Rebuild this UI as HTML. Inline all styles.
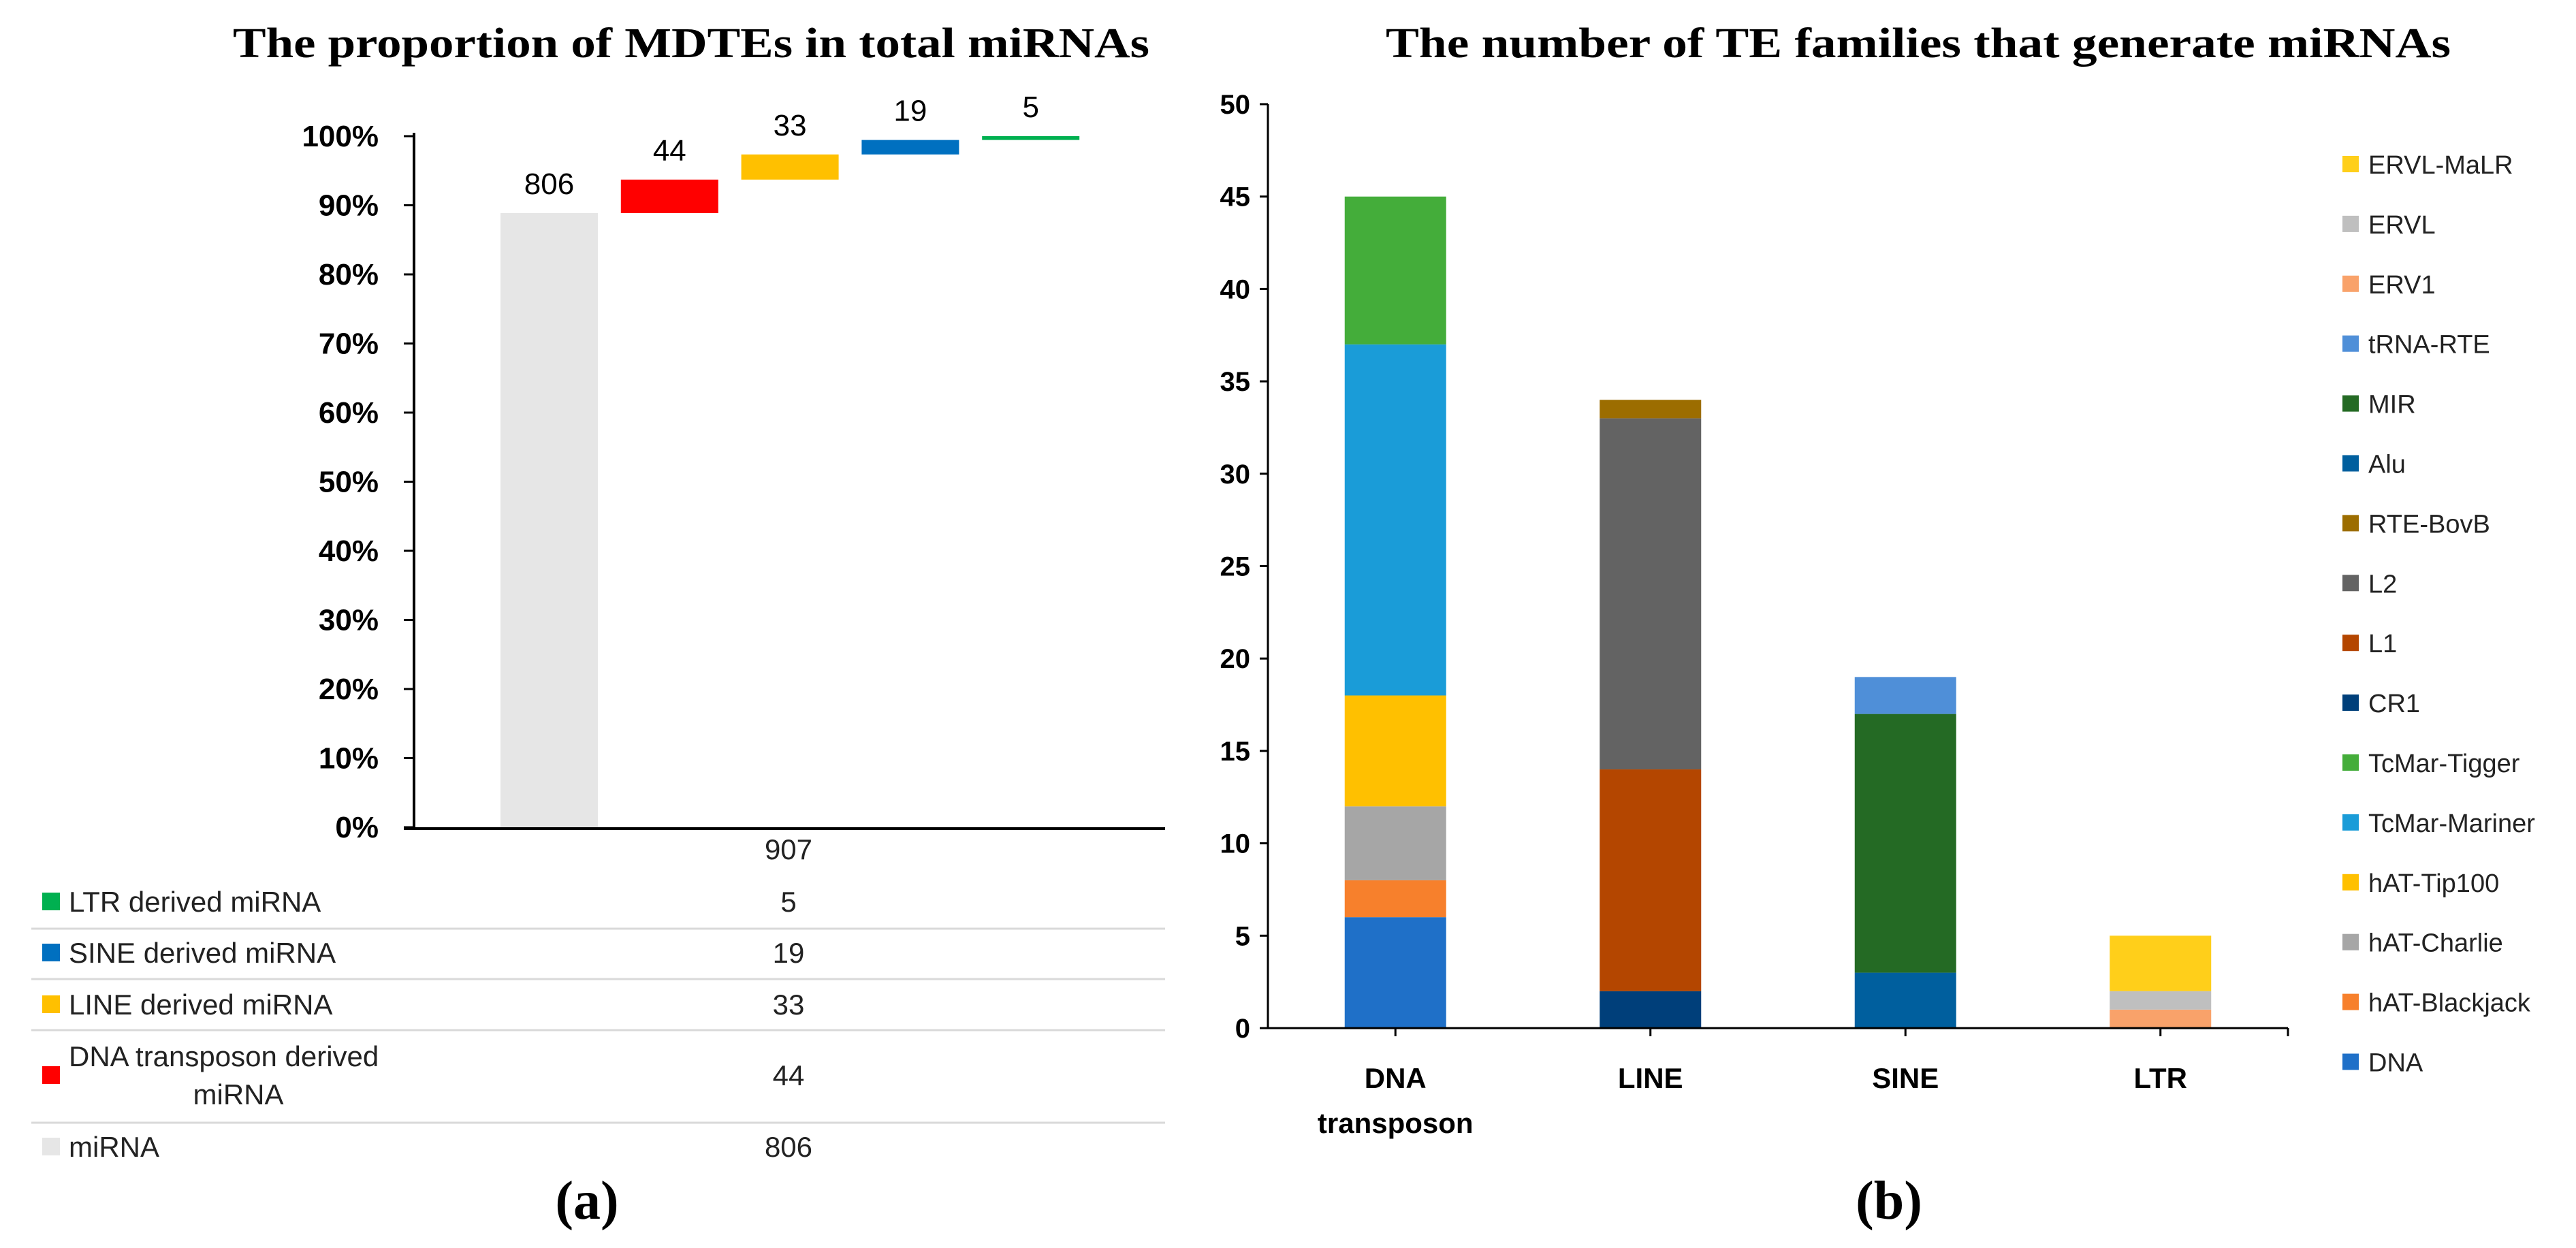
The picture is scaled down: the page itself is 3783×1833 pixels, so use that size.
<!DOCTYPE html>
<html><head><meta charset="utf-8">
<style>
html,body{margin:0;padding:0;background:#fff;}
svg{display:block;}
text{font-family:"Liberation Sans","Noto Sans CJK KR",sans-serif;}
.serif{font-family:"Liberation Serif",serif;font-weight:bold;}
</style></head>
<body>
<svg id="fig" width="3783" height="1833" viewBox="0 0 3783 1833" xmlns="http://www.w3.org/2000/svg">
  <text class="serif" x="1015" y="84" font-size="62" text-anchor="middle" textLength="1346" lengthAdjust="spacingAndGlyphs">The proportion of MDTEs in total miRNAs</text>
  <text class="serif" x="2817" y="84" font-size="62" text-anchor="middle" textLength="1564" lengthAdjust="spacingAndGlyphs">The number of TE families that generate miRNAs</text>
  <g id="chartA"></g>
  <g id="chartB"></g>
  <text class="serif" x="862" y="1790" font-size="80" text-anchor="middle">(a)</text>
  <text class="serif" x="2774" y="1790" font-size="80" text-anchor="middle">(b)</text>
</svg>
<script>
// ---------- Chart A data ----------
const aCategories = ["miRNA","DNA transposon derived miRNA","LINE derived miRNA","SINE derived miRNA","LTR derived miRNA"];
const aValues = [806, 44, 33, 19, 5];
const aColors = ["#e6e6e6","#ff0000","#ffc000","#0070c0","#00b050"];
const aTicks = ["0%","10%","20%","30%","40%","50%","60%","70%","80%","90%","100%"];
const aTotal = 907;
const aTableRows = ["LTR derived miRNA","SINE derived miRNA","LINE derived miRNA","DNA transposon derived miRNA","miRNA"];
const aTableValues = [5, 19, 33, 44, 806];
const aTableColors = ["#00b050","#0070c0","#ffc000","#ff0000","#e6e6e6"];

// ---------- Chart B data ----------
const bCategories = ["DNA transposon","LINE","SINE","LTR"];
const bSeries = ["DNA","hAT-Blackjack","hAT-Charlie","hAT-Tip100","TcMar-Mariner","TcMar-Tigger","CR1","L1","L2","RTE-BovB","Alu","MIR","tRNA-RTE","ERV1","ERVL","ERVL-MaLR"];
const bColors = ["#1f70c8","#f7802c","#a6a6a6","#ffc000","#1a9cd8","#44ad3a","#003f7a","#b44600","#636363","#9c6d00","#005f9e","#246a24","#4f8fd8","#f9a26a","#bfbfbf","#ffcf1a"];
const bValues = [
  [6,0,0,0],[2,0,0,0],[4,0,0,0],[6,0,0,0],[19,0,0,0],[8,0,0,0],
  [0,2,0,0],[0,12,0,0],[0,19,0,0],[0,1,0,0],
  [0,0,3,0],[0,0,14,0],[0,0,2,0],
  [0,0,0,1],[0,0,0,1],[0,0,0,3]
];
const bTicks = [0,5,10,15,20,25,30,35,40,45,50];

const NS = "http://www.w3.org/2000/svg";
function mk(parent, tag, attrs, txt){
  const e = document.createElementNS(NS, tag);
  for (const k in attrs) e.setAttribute(k, attrs[k]);
  if (txt !== undefined) e.textContent = txt;
  parent.appendChild(e);
  return e;
}

// ---------- Chart A ----------
(function(){
  const g = document.getElementById("chartA");
  const x0 = 608, xEnd = 1711, yTop = 200, yBot = 1215;
  const yA = p => yBot - (yBot - yTop) * p;            // p in [0,1]
  const xA = i => 735 + i * 176.8;                       // bar left
  const bw = 143;
  // ticks
  aTicks.forEach((t, i) => {
    const y = yA(i / (aTicks.length - 1));
    const tk = mk(g, "line", {x1:593, x2:x0, y1:y, y2:y, stroke:"#000", "stroke-width":3});
    
    
    const lb = mk(g, "text", {x:556, y:y+15, "font-size":44, "font-weight":"bold", "text-anchor":"end"}, t);
    
    
  });
  const ya = mk(g, "line", {x1:x0, x2:x0, y1:yTop-5, y2:yBot+2, stroke:"#000", "stroke-width":4});
  
  
  const xa = mk(g, "line", {x1:x0-15, x2:xEnd, y1:yBot+2, y2:yBot+2, stroke:"#000", "stroke-width":4});
  
  
  // waterfall bars
  let cum = 0;
  aValues.forEach((v, i) => {
    const start = i === 0 ? 0 : cum;
    const end = cum + v;
    const yt = yA(end / aTotal), yb = yA(start / aTotal);
    const r = mk(g, "rect", {x:xA(i), y:yt, width:bw, height:Math.max(yb - yt, 1), fill:aColors[i]});
    
    
    const lb = mk(g, "text", {x:xA(i)+bw/2, y:yt-28, "font-size":44, "text-anchor":"middle"}, String(v));
    
    
    cum = end;
  });
  // data table
  const tt = mk(g, "text", {x:1158, y:1262, "font-size":42, "text-anchor":"middle", fill:"#222"}, String(aTotal));
  
  
  const rowY = [1324, 1399, 1475, 1579, 1684];
  const sepY = [1364, 1438, 1513, 1649];
  sepY.forEach(y => {
    const l = mk(g, "line", {x1:46, x2:xEnd, y1:y, y2:y, stroke:"#d9d9d9", "stroke-width":3});
    
    
  });
  aTableRows.forEach((name, i) => {
    const y = rowY[i];
    const sq = mk(g, "rect", {x:62, y:y-13, width:26, height:26, fill:aTableColors[i]});
    
    
    if (name === "DNA transposon derived miRNA") {
      const t1 = mk(g, "text", {x:101, y:y-13, "font-size":42, fill:"#222"}, "DNA transposon derived");
      
      
      const t2 = mk(g, "text", {x:350, y:y+43, "font-size":42, fill:"#222", "text-anchor":"middle"}, "miRNA");
      
      
    } else {
      const t = mk(g, "text", {x:101, y:y+15, "font-size":42, fill:"#222"}, name);
      
      
    }
    const v = mk(g, "text", {x:1158, y:y+15, "font-size":42, fill:"#222", "text-anchor":"middle"}, String(aTableValues[i]));
    
    
  });
})();

// ---------- Chart B ----------
(function(){
  const g = document.getElementById("chartB");
  const x0 = 1862, xEnd = 3360, yTop = 153, yBot = 1510, maxV = 50;
  const yB = v => yBot - (yBot - yTop) * v / maxV;
  const xStep = (xEnd - x0) / bCategories.length;
  const xC = i => x0 + xStep * (i + 0.5);
  const bw = 149;
  bTicks.forEach(t => {
    const y = yB(t);
    const tk = mk(g, "line", {x1:x0-12, x2:x0, y1:y, y2:y, stroke:"#000", "stroke-width":3});
    
    
    const lb = mk(g, "text", {x:x0-26, y:y+14, "font-size":40, "font-weight":"bold", "text-anchor":"end"}, String(t));
    
    
  });
  // stacked bars
  bCategories.forEach((c, ci) => {
    let cum = 0;
    bSeries.forEach((s, si) => {
      const v = bValues[si][ci];
      if (!v) return;
      const yt = yB(cum + v), yb = yB(cum);
      const r = mk(g, "rect", {x:xC(ci)-bw/2, y:yt, width:bw, height:yb-yt, fill:bColors[si]});
      
      
      cum += v;
    });
    const tk = mk(g, "line", {x1:xC(ci), x2:xC(ci), y1:yBot, y2:yBot+12, stroke:"#000", "stroke-width":3});
    
    
    const words = c === "DNA transposon" ? ["DNA","transposon"] : [c];
    words.forEach((w, wi) => {
      const lb = mk(g, "text", {x:xC(ci), y:1598 + wi*66, "font-size":42, "font-weight":"bold", "text-anchor":"middle"}, w);
      
      
    });
  });
  const ya = mk(g, "line", {x1:x0, x2:x0, y1:yTop, y2:yBot+1, stroke:"#000", "stroke-width":3});
  
  
  const xa = mk(g, "line", {x1:x0-12, x2:xEnd, y1:yBot, y2:yBot, stroke:"#000", "stroke-width":3});
  
  
  const xt = mk(g, "line", {x1:xEnd, x2:xEnd, y1:yBot, y2:yBot+12, stroke:"#000", "stroke-width":3});
  
  
  // legend (reverse order, top to bottom)
  const n = bSeries.length;
  for (let k = 0; k < n; k++) {
    const si = n - 1 - k;
    const y = 241 + k * 87.9;
    const sq = mk(g, "rect", {x:3440, y:y-12, width:24, height:24, fill:bColors[si]});
    
    
    const t = mk(g, "text", {x:3478, y:y+14, "font-size":38, fill:"#222"}, bSeries[si]);
    
    
  }
})();
</script>
</body></html>
